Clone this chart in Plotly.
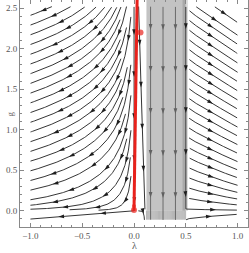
import math
import numpy as np
import plotly.graph_objects as go

# ---------------- data ----------------
x_tick_vals = [-1.0, -0.5, 0.0, 0.5, 1.0]
y_tick_vals = [0.0, 0.5, 1.0, 1.5, 2.0, 2.5]
x_range = [-1.1, 1.1]
y_range = [-0.2, 2.6]
stream_x_domain = [-1.0, 1.0]
stream_y_domain = [-0.12, 2.52]

# separatrix (red) and fixed points
red_line_x = [0.0, 0.03]
red_line_y = [0.0, 2.6]
red_points_x = [0.0, 0.0, 0.063]
red_points_y = [0.01, 0.06, 2.2]
red_points_size = [6, 4, 6]

# gray (non-physical) band
gray_x = [0.12, 0.465, 0.5, 0.52]
gray_fill = ["#c3c3c3", "#a9a9a9", "#dadada"]
gray_top = 2.6
gray_bottom = 0.0
hatch_bottom = -0.11

# flow parameters (beta-function model)
left_rate = 1.0
vy_amp = 0.5
vy_scale = 0.2
vy_neg = 1.0
gap_rate = 3.0
right_u = 0.5
right_v_amp = 0.55
right_v_scale = 0.6


def field(x, y):
    g0, g1 = gray_x[0], gray_x[2]
    if x < 0:
        u = left_rate * x
    elif x < g0:
        u = gap_rate * x * (g0 - x)
    elif x < g1:
        u = 0.0
    else:
        u = right_u * (1 - math.exp(-(x - g1) / 0.03))
    if x < g1:
        v = -vy_amp * y / (y + vy_scale) if y >= 0 else vy_neg * y
    else:
        v = -right_v_amp * y / (abs(y) + right_v_scale)
    return u, v


# ---------------- geometry ----------------
W, H = 249, 253
ML, MR, MT, MB = 20, 1, 0, 26
pw, ph = W - ML - MR, H - MT - MB
sx = pw / (x_range[1] - x_range[0])
sy = ph / (y_range[1] - y_range[0])


def to_px(x, y):
    return (x - x_range[0]) * sx, (y_range[1] - y) * sy


def dirpx(x, y):
    u, v = field(x, y)
    up, vp = u * sx, v * sy
    n = math.hypot(up, vp)
    if n < 1e-3:
        return None
    return up / n / sx, vp / n / sy, n


dsep, dtest = 7.5, 3.2
grid = {}


def near(px, py, d):
    ci, cj = int(px // dsep), int(py // dsep)
    for i in range(ci - 1, ci + 2):
        for j in range(cj - 1, cj + 2):
            for (qx, qy) in grid.get((i, j), []):
                if (qx - px) ** 2 + (qy - py) ** 2 < d * d:
                    return True
    return False


def inside(x, y):
    return stream_x_domain[0] <= x <= stream_x_domain[1] and stream_y_domain[0] <= y <= stream_y_domain[1]


def trace(x, y, sgn):
    pts = []
    h = 1.0
    for _ in range(1500):
        d1 = dirpx(x, y)
        if d1 is None:
            break
        xm, ym = x + sgn * 0.5 * h * d1[0], y + sgn * 0.5 * h * d1[1]
        d2 = dirpx(xm, ym)
        if d2 is None:
            break
        xn, yn = x + sgn * h * d2[0], y + sgn * h * d2[1]
        if not inside(xn, yn):
            break
        px, py = to_px(xn, yn)
        if near(px, py, dtest):
            break
        x, y = xn, yn
        pts.append((x, y))
    return pts


lines = []
seed_xs = np.arange(-0.98, 0.99, 0.06)
seed_ys = np.arange(-0.1, 2.5, 0.06)
for sx0 in seed_xs:
    for sy0 in seed_ys:
        px, py = to_px(sx0, sy0)
        if near(px, py, dsep):
            continue
        back = trace(sx0, sy0, -1)
        fwd = trace(sx0, sy0, 1)
        pts = back[::-1] + [(sx0, sy0)] + fwd
        if len(pts) < 14:
            continue
        lines.append(pts)
        for (a, b) in pts:
            qx, qy = to_px(a, b)
            grid.setdefault((int(qx // dsep), int(qy // dsep)), []).append((qx, qy))

# ---------------- figure ----------------
fig = go.Figure()

# gray band
for i in range(3):
    fig.add_shape(type="rect", x0=gray_x[i], x1=gray_x[i + 1], y0=gray_bottom, y1=gray_top,
                  fillcolor=gray_fill[i], line_width=0, layer="below")
hx, hy = [], []
for xv in np.arange(gray_x[0], gray_x[2], 0.009):
    hx += [xv, xv, None]
    hy += [hatch_bottom, gray_bottom, None]
fig.add_trace(go.Scatter(x=hx, y=hy, mode="lines", line=dict(color="#9a9a9a", width=0.7),
                         hoverinfo="skip", showlegend=False))

blk_x, blk_y, gr_x, gr_y = [], [], [], []
ax_b, ay_b, ang_b, ax_g, ay_g, ang_g = [], [], [], [], [], []
for pts in lines:
    xs = [p[0] for p in pts]
    ys = [p[1] for p in pts]
    xm = xs[len(xs) // 2]
    in_gray = gray_x[0] <= xm < gray_x[2]
    if in_gray:
        gr_x += xs + [None]; gr_y += ys + [None]
    else:
        blk_x += xs + [None]; blk_y += ys + [None]
    n = len(pts)
    step = 42
    k0 = (n % step) // 2 + step // 2 if n > step else n // 2
    for k in range(k0, n, step):
        a, b = pts[k]
        u, v = field(a, b)
        ang = math.degrees(math.atan2(u * sx, v * sy))
        if in_gray:
            ax_g.append(a); ay_g.append(b); ang_g.append(ang)
        else:
            ax_b.append(a); ay_b.append(b); ang_b.append(ang)

fig.add_trace(go.Scatter(x=gr_x, y=gr_y, mode="lines", line=dict(color="#606060", width=0.9),
                         hoverinfo="skip", showlegend=False))
fig.add_trace(go.Scatter(x=blk_x, y=blk_y, mode="lines", line=dict(color="#1e1e1e", width=0.9),
                         hoverinfo="skip", showlegend=False))
fig.add_trace(go.Scatter(x=ax_b, y=ay_b, mode="markers",
                         marker=dict(symbol="arrow", size=6, angle=ang_b, color="#1e1e1e"),
                         hoverinfo="skip", showlegend=False))
fig.add_trace(go.Scatter(x=ax_g, y=ay_g, mode="markers",
                         marker=dict(symbol="arrow", size=6, angle=ang_g, color="#606060"),
                         hoverinfo="skip", showlegend=False))

fig.add_trace(go.Scatter(x=red_line_x, y=red_line_y, mode="lines",
                         line=dict(color="#e8221c", width=3), showlegend=False, hoverinfo="skip"))
fig.add_trace(go.Scatter(x=red_points_x, y=red_points_y, mode="markers",
                         marker=dict(color="#e8221c", size=red_points_size, line=dict(width=0)),
                         showlegend=False, hoverinfo="skip"))

axis_common = dict(showgrid=False, zeroline=False, showline=True, linecolor="#888888", linewidth=1,
                   mirror="allticks", ticks="inside", ticklen=4, tickcolor="#888888",
                   tickfont=dict(family="Liberation Serif", size=9, color="#555555"),
                   tickformat=".1f", automargin=False,
                   minor=dict(ticks="inside", ticklen=2, tickcolor="#888888", dtick=0.1))
fig.update_xaxes(range=x_range, tickvals=x_tick_vals, **axis_common)
fig.update_yaxes(range=y_range, tickvals=y_tick_vals, **axis_common)

fig.add_annotation(text="λ", x=0.5, xref="paper", y=-0.05, yref="paper", yanchor="top",
                   showarrow=False, font=dict(family="Liberation Serif", size=10, color="#555555"))
fig.add_annotation(text="g", x=-0.075, xref="paper", y=0.5, yref="paper", textangle=-90,
                   showarrow=False, font=dict(family="Liberation Serif", size=9, color="#666666"))

fig.update_layout(width=W, height=H, margin=dict(l=ML, r=MR, t=MT, b=MB, autoexpand=False),
                  plot_bgcolor="white", paper_bgcolor="white")
fig.write_html("out.html", config={"displayModeBar": False},
               post_script="document.body.style.margin='0';document.body.style.overflow='hidden';")
